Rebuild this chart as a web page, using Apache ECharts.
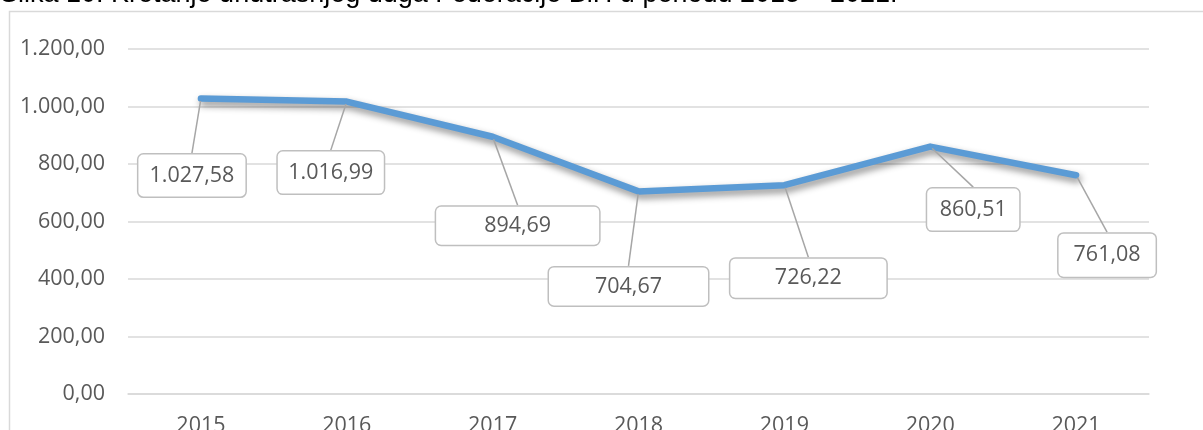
<!DOCTYPE html>
<html>
<head>
<meta charset="utf-8">
<script src="https://cdn.jsdelivr.net/npm/echarts@6/dist/echarts.min.js"></script>
<style>
html,body{margin:0;padding:0;background:#fff;}
#c{width:1203px;height:430px;}
</style>
</head>
<body>
<div id="c"></div>
<script>
// ---- data ----
const titleText = 'Slika 10: Kretanje unutrašnjeg duga Federacije BiH u periodu 2015 – 2021.';
const categories = ['2015', '2016', '2017', '2018', '2019', '2020', '2021'];
const debtValues = [1027.58, 1016.99, 894.69, 704.67, 726.22, 860.51, 761.08];
const yMin = 0, yMax = 1200, yInterval = 200;

// ---- label placement (style only) ----
const labelOffsets = [[-9, 77], [-16, 71], [25, 89], [-10, 95], [24, 93], [43, 63], [31, 80]];
const labelSizes = [[107, 42], [106, 42], [163, 38], [159, 38], [156, 39], [92, 42], [97, 43]];

function fmt(v) {
  const parts = v.toFixed(2).split('.');
  parts[0] = parts[0].replace(/\B(?=(\d{3})+(?!\d))/g, '.');
  return parts[0] + ',' + parts[1];
}

const chart = echarts.init(document.getElementById('c'), null, {renderer: 'canvas'});
const FONT = 'Open Sans';
const FS = 21.5;
const seriesData = debtValues.map((v, i) => ({
  value: v,
  label: {
    width: labelSizes[i][0],
    height: labelSizes[i][1],
    lineHeight: labelSizes[i][1]
  }
}));

chart.setOption({
  animation: false,
  backgroundColor: '#fff',
  graphic: [
    {
      type: 'rect', silent: true, z: -1,
      shape: {x: 9.5, y: 11.5, width: 1400, height: 600},
      style: {fill: null, stroke: '#d9d9d9', lineWidth: 1.5}
    },
    {
      type: 'text', silent: true,
      style: {
        x: 0, y: 8, text: titleText,
        font: 'normal 27px "Liberation Sans", Arial, sans-serif',
        fill: '#000', verticalAlign: 'bottom'
      }
    }
  ],
  grid: {left: 128, right: 54, top: 49, bottom: 36, containLabel: false, outerBoundsMode: 'none'},
  xAxis: {
    type: 'category',
    data: categories,
    boundaryGap: true,
    axisLine: {show: true, lineStyle: {color: '#d9d9d9', width: 1.5}},
    axisTick: {show: false},
    axisLabel: {color: '#595959', fontFamily: FONT, fontSize: FS, margin: 21}
  },
  yAxis: {
    type: 'value',
    min: yMin, max: yMax, interval: yInterval,
    axisLine: {show: false},
    axisTick: {show: false},
    splitLine: {lineStyle: {color: '#d9d9d9', width: 1.5}},
    axisLabel: {color: '#595959', fontFamily: FONT, fontSize: FS, margin: 23, formatter: fmt}
  },
  series: [{
    type: 'line',
    data: seriesData,
    symbol: 'circle',
    symbolSize: 5,
    itemStyle: {color: '#5b9bd5'},
    lineStyle: {
      color: '#5b9bd5', width: 6.5, cap: 'round', join: 'round',
      shadowColor: 'rgba(0,0,0,0.45)', shadowBlur: 7, shadowOffsetX: 2, shadowOffsetY: 4
    },
    label: {
      show: true,
      position: 'inside',
      formatter: p => fmt(p.value),
      color: '#595959',
      fontFamily: FONT,
      fontSize: FS,
      align: 'center',
      verticalAlign: 'middle',
      backgroundColor: '#fff',
      borderColor: '#bfbfbf',
      borderWidth: 1.5,
      borderRadius: 5,
      padding: 0
    },
    labelLine: {
      show: true,
      showAbove: false,
      lineStyle: {color: '#a6a6a6', width: 1.5}
    },
    labelLayout: function (params) {
      const o = labelOffsets[params.dataIndex];
      return {dx: o[0], dy: o[1]};
    },
    z: 3
  }]
});
</script>
</body>
</html>
